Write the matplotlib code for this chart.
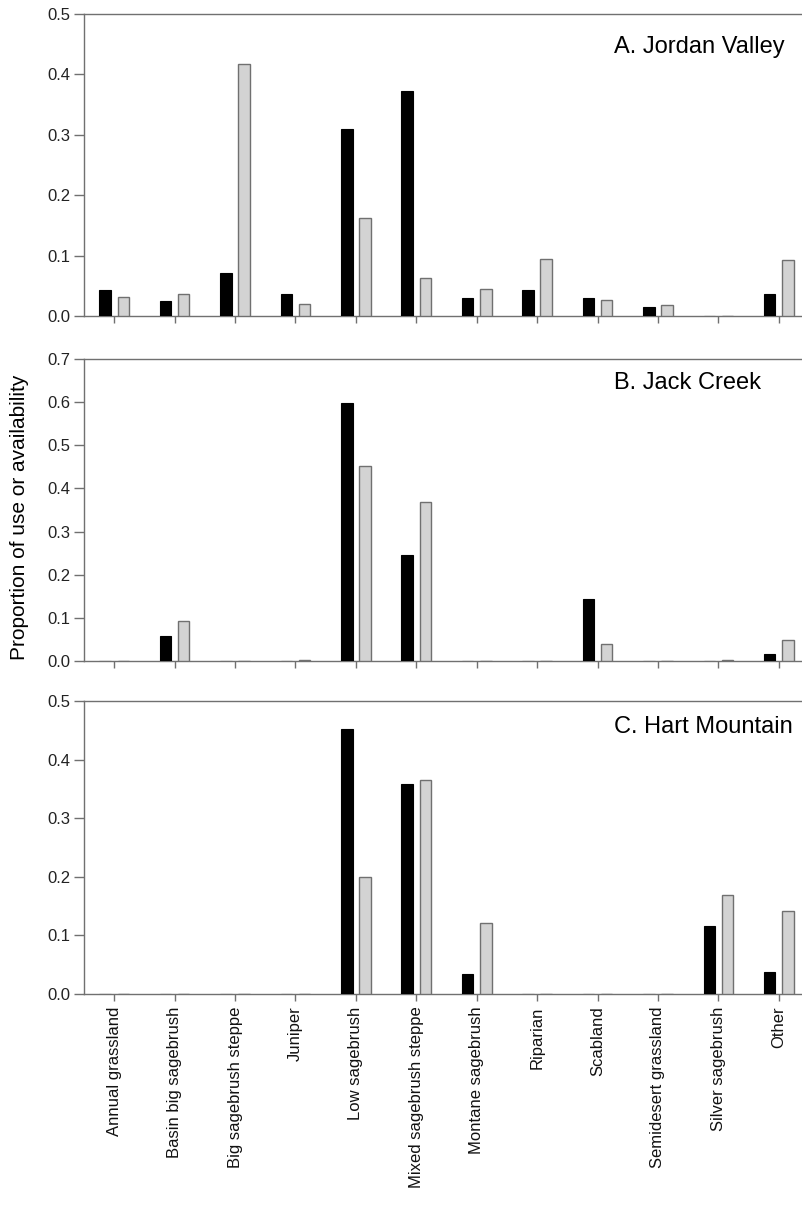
import matplotlib
matplotlib.use("Agg")
import matplotlib.pyplot as plt
import numpy as np

plt.rcParams['font.family'] = ['Liberation Sans', 'DejaVu Sans']

categories = ["Annual grassland", "Basin big sagebrush", "Big sagebrush steppe", "Juniper",
              "Low sagebrush", "Mixed sagebrush steppe", "Montane sagebrush", "Riparian",
              "Scabland", "Semidesert grassland", "Silver sagebrush", "Other"]

titles = ["A. Jordan Valley", "B. Jack Creek", "C. Hart Mountain"]

use_a = [0.0425, 0.0254, 0.0707, 0.036, 0.309, 0.372, 0.029, 0.043, 0.029, 0.015, 0.0, 0.036]
avail_a = [0.031, 0.036, 0.417, 0.020, 0.163, 0.0635, 0.045, 0.095, 0.0265, 0.018, 0.0, 0.093]

use_b = [0.0, 0.0587, 0.0, 0.0, 0.599, 0.245, 0.0, 0.0, 0.1445, 0.0, 0.0, 0.0155]
avail_b = [0.0, 0.092, 0.0, 0.003, 0.453, 0.369, 0.0, 0.0, 0.0386, 0.0, 0.003, 0.049]

use_c = [0.0, 0.0, 0.0, 0.0, 0.4528, 0.358, 0.0336, 0.0, 0.0, 0.0, 0.1166, 0.0381]
avail_c = [0.0, 0.0, 0.0, 0.0, 0.1997, 0.366, 0.1217, 0.0, 0.0, 0.0, 0.1695, 0.1416]

ymaxes = [0.5, 0.7, 0.5]

W, H = 802, 1207
fig = plt.figure(figsize=(W / 100, H / 100), dpi=100)

# axes boxes in pixels: (top, bottom)
boxes = [(14, 316), (359, 661), (701, 994)]
title_y = [0.891, 0.92, 0.911]
left_px, right_px = 84, 809

x = np.arange(len(categories))
spine_col = '#707070'

for i, (use, avail) in enumerate([(use_a, avail_a), (use_b, avail_b), (use_c, avail_c)]):
    top, bot = boxes[i]
    ax = fig.add_axes([left_px / W, 1 - bot / H, (right_px - left_px) / W, (bot - top) / H])
    ax.bar(x - 0.15, use, width=0.19, color='black', edgecolor='black', linewidth=0.8, zorder=3)
    ax.bar(x + 0.15, avail, width=0.19, color='#d3d3d3', edgecolor='#707070', linewidth=1.0, zorder=3)
    ax.set_xlim(-0.5, 11.5)
    ax.set_ylim(0, ymaxes[i])
    ticks = np.round(np.arange(0, ymaxes[i] + 0.001, 0.1), 1)
    ax.set_yticks(ticks)
    ax.set_yticklabels([f"{v:.1f}" for v in ticks], fontsize=12, color='#222222')
    ax.set_xticks(x)
    if i == 2:
        ax.set_xticklabels(categories, rotation=90, fontsize=12, color='#111111')
    else:
        ax.set_xticklabels([])
    for s in ['left', 'bottom', 'top', 'right']:
        ax.spines[s].set_color(spine_col)
        ax.spines[s].set_linewidth(1.0)
    ax.tick_params(axis='y', direction='out', length=7, width=1, color=spine_col, pad=3)
    ax.tick_params(axis='x', direction='out', length=5, width=1, color=spine_col, pad=4)
    ax.text(0.731, title_y[i], titles[i], transform=ax.transAxes, ha='left', va='center', fontsize=17)

fig.text(20 / W, 1 - 517 / H, "Proportion of use or availability", rotation=90,
         ha='center', va='center', fontsize=15)

fig.savefig("out.png", dpi=100)
